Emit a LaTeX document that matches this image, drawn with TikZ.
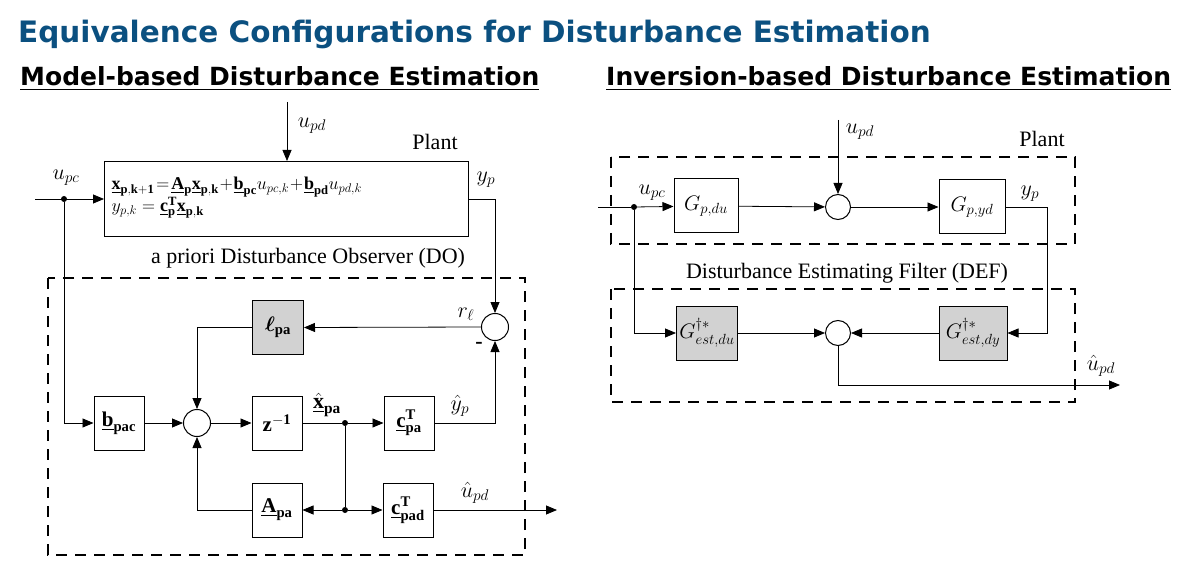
\RequirePackage{fix-cm}
\documentclass[tikz,border=0pt]{standalone}
\usepackage{fontspec}
\usepackage{amsmath}
\setmainfont{Liberation Serif}
\newfontfamily\headfont{DejaVu Sans}
\usetikzlibrary{arrows.meta}
\definecolor{titleblue}{HTML}{0B5080}
\newcommand{\ub}[1]{\underline{\mathbf{#1}}}
\begin{document}
\begin{tikzpicture}[x=1pt,y=-1pt,
  blk/.style={draw,line width=1pt,minimum width=50pt,minimum height=54pt,inner sep=1pt,font=\fontsize{21}{23}\selectfont},
  gblk/.style={blk,fill=gray!35},
  sumc/.style={draw,line width=1pt,circle,minimum size=27pt,inner sep=0pt},
  dotn/.style={circle,fill,inner sep=0pt,minimum size=6pt},
  wire/.style={line width=0.8pt},
  arr/.style={wire,-{Triangle[length=11pt,width=9pt]}},
  dbox/.style={dashed,line width=2.2pt,dash pattern=on 11pt off 8pt},
  lbl/.style={font=\fontsize{22}{24}\selectfont},
  head/.style={font=\headfont\bfseries\fontsize{25}{28}\selectfont,anchor=west}]
\useasboundingbox (0,0) rectangle (1200,588);
\fill[white] (0,0) rectangle (1200,588);
% titles
\node[anchor=west,text=titleblue,font=\headfont\bfseries\fontsize{29.5}{32}\selectfont,inner sep=0pt] (title) at (18,34) {Equivalence Configurations for Disturbance Estimation};
\node[head,inner sep=0pt] (hl) at (20,79) {\underline{Model-based Disturbance Estimation}};
\node[head,inner sep=0pt] (hr) at (606,79) {\underline{Inversion-based Disturbance Estimation}};

% ===== left =====
\node[draw,line width=1pt,minimum width=364pt,minimum height=75pt,anchor=north west,inner sep=0pt] (plant) at (104,161) {};
\node[anchor=west,font=\fontsize{18}{21}\selectfont,align=left] (eq) at (108,198)
 {$\ub{x}_{\mathbf{p,k+1}}\!=\!\ub{A}_{\mathbf{p}}\ub{x}_{\mathbf{p,k}}\!+\!\ub{b}_{\mathbf{pc}}u_{pc,k}\!+\!\ub{b}_{\mathbf{pd}}u_{pd,k}$\\[-1pt] $y_{p,k}=\ub{c}_{\mathbf{p}}^{\mathbf{T}}\ub{x}_{\mathbf{p,k}}$};
\node[lbl] (plbl) at (435,142) {Plant};
\coordinate (updtop) at (287,102);
\draw[arr] (updtop) -- (updtop|-plant.north);
\node[lbl] (updl) at (312,126) {$u_{pd}$};
\coordinate (upcin) at (35,199);
\node[dotn] (d1) at (64,199) {};
\draw[arr] (upcin) -- (upcin-|plant.west);
\node[lbl] (upcl) at (66,178) {$u_{pc}$};
\node[lbl] (ypl) at (486,180) {$y_p$};
\node[lbl] (dol) at (308,258) {a priori Disturbance Observer (DO)};
\draw[dbox] (48,278) rectangle (525,555);

\node[sumc] (s1) at (495,327) {};
\node[gblk,anchor=north west,minimum width=51pt] (ell) at (252,300) {$\boldsymbol{\ell}_{\mathbf{pa}}$};
\node[blk] (bpac) at (119,423) {$\ub{b}_{\mathbf{pac}}$};
\node[sumc] (s2) at (197,423) {};
\node[blk] (z) at (277,423) {$\mathbf{z^{-1}}$};
\node[dotn] (d2) at (345,423) {};
\node[blk] (cpa) at (409,423) {$\ub{c}_{\mathbf{pa}}^{\mathbf{T}}$};
\node[blk] (apa) at (277,510) {$\ub{A}_{\mathbf{pa}}$};
\node[dotn] (d3) at (345,510) {};
\node[blk] (cpad) at (408,510) {$\ub{c}_{\mathbf{pad}}^{\mathbf{T}}$};
\coordinate (uout) at (557,510);

\draw[arr] (plant.east|-d1) -| (s1.north);
\draw[arr] (s1.west) -- (ell.east);
\draw[arr] (ell.west) -| (s2.north);
\draw[arr] (d1) |- (bpac.west);
\draw[arr] (bpac) -- (s2);
\draw[arr] (s2) -- (z);
\draw[wire] (z) -- (d2);
\draw[arr] (d2) -- (cpa);
\draw[arr] (cpa.east) -| (s1.south);
\draw[wire] (d2) -- (d3);
\draw[arr] (d3) -- (apa);
\draw[arr] (d3) -- (cpad);
\draw[arr] (apa.west) -| (s2.south);
\draw[arr] (cpad) -- (uout);
\node[lbl] (rl) at (466,314) {$r_\ell$};
\node[font=\bfseries\fontsize{22}{24}\selectfont] (minus) at (479,345) {-};
\node[lbl] (xl) at (327,405) {$\hat{\ub{x}}_{\mathbf{pa}}$};
\node[lbl] (yhl) at (460,406) {$\hat{y}_p$};
\node[lbl] (uhl) at (475,493) {$\hat{u}_{pd}$};

% ===== right =====
\draw[dbox] (611,157) rectangle (1075,244);
\draw[dbox] (611,289) rectangle (1075,402);
\node[lbl] (plbl2) at (1042,139) {Plant};
\node[lbl] (defl) at (847,273) {Disturbance Estimating Filter (DEF)};
\node[blk,minimum width=64pt] (gdu) at (706,206) {$G_{p,du}$};
\node[sumc,minimum size=25pt] (s3) at (838,207) {};
\node[blk,minimum width=66pt] (gyd) at (972,207) {$G_{p,yd}$};
\node[gblk,minimum width=61pt,inner sep=0pt] (gedu) at (707,333) {$G^{\dagger*}_{est,du}$};
\node[sumc,minimum size=25pt] (s4) at (838,333) {};
\node[gblk,minimum width=68pt,inner sep=0pt] (gedy) at (973,333) {$G^{\dagger*}_{est,dy}$};
\coordinate (upd2) at (838,120);
\coordinate (upcin2) at (598,207);
\node[dotn] (d4) at (634,207) {};
\coordinate (uout2) at (1120,385);
\draw[arr] (upd2) -- (s3);
\draw[wire] (upcin2) -- (d4);
\draw[arr] (d4) -- (gdu);
\draw[arr] (gdu) -- (s3);
\draw[arr] (s3) -- (gyd);
\draw[arr] (gyd.east) -- ++(42,0) |- (gedy.east);
\draw[arr] (d4) |- (gedu.west);
\draw[arr] (gedu) -- (s4);
\draw[arr] (gedy) -- (s4);
\draw[arr] (s4.south) |- (uout2);
\node[lbl] (upd2l) at (860,132) {$u_{pd}$};
\node[lbl] (upc2l) at (652,193) {$u_{pc}$};
\node[lbl] (yp2l) at (1030,194) {$y_p$};
\node[lbl] (uh2l) at (1101,366) {$\hat{u}_{pd}$};
\end{tikzpicture}
\end{document}
